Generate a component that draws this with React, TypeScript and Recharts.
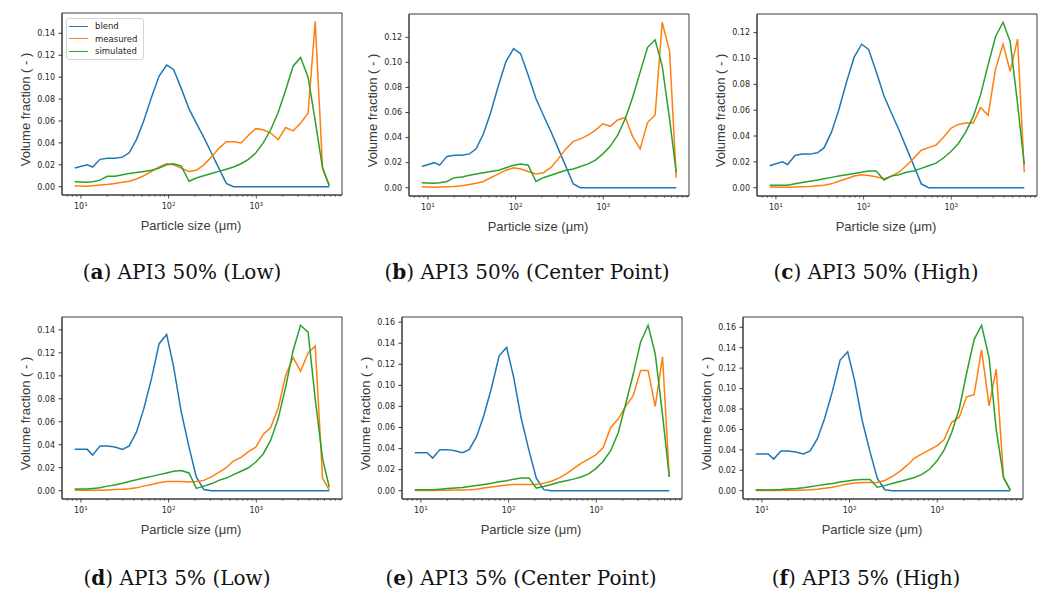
import React from "react";
import { LineChart, Line, XAxis, YAxis, Legend, ReferenceArea } from "recharts";

// particle size classes (µm)
const sizes = [
  8.5, 11.8, 13.6, 16.5, 20, 24.4, 29.8, 35.5, 43, 52, 64, 78, 95, 114, 139, 171, 207, 252, 307, 374,
  455, 550, 670, 815, 990, 1200, 1460, 1780, 2160, 2630, 3200, 3900, 4700, 5700, 6800,
];

const blend50 = [
  0.017, 0.02, 0.018, 0.025, 0.026, 0.026, 0.027, 0.031, 0.043, 0.06, 0.082, 0.101, 0.111, 0.107, 0.09,
  0.071, 0.058, 0.045, 0.031, 0.017, 0.003, 0, 0, 0, 0, 0, 0, 0, 0, 0, 0, 0, 0, 0, 0,
];
const blend5 = [
  0.036, 0.036, 0.031, 0.039, 0.039, 0.038, 0.036, 0.039, 0.051, 0.071, 0.098, 0.128, 0.136, 0.108, 0.069,
  0.038, 0.012, 0.001, 0, 0, 0, 0, 0, 0, 0, 0, 0, 0, 0, 0, 0, 0, 0, 0, 0,
];

const measured50Low = [
  0.001, 0.0005, 0.001, 0.0015, 0.002, 0.003, 0.004, 0.005, 0.007, 0.01, 0.014, 0.018, 0.021, 0.02, 0.017,
  0.014, 0.015, 0.02, 0.027, 0.035, 0.041, 0.041, 0.04, 0.047, 0.053, 0.052, 0.049, 0.043, 0.054, 0.051,
  0.058, 0.067, 0.151, 0.017, 0.001,
];
const simulated50Low = [
  0.0045, 0.004, 0.0045, 0.006, 0.0095, 0.0095, 0.011, 0.012, 0.013, 0.014, 0.015, 0.017, 0.02, 0.021, 0.019,
  0.005, 0.008, 0.01, 0.012, 0.014, 0.016, 0.018, 0.021, 0.025, 0.031, 0.04, 0.052, 0.068, 0.088, 0.11,
  0.118, 0.1, 0.06, 0.017, 0.001,
];
const measured50Center = [
  0.0008, 0.0003, 0.0005, 0.0008, 0.001, 0.0015, 0.0025, 0.0035, 0.005, 0.008, 0.011, 0.014, 0.016, 0.015,
  0.013, 0.011, 0.012, 0.016, 0.023, 0.031, 0.037, 0.039, 0.042, 0.046, 0.051, 0.049, 0.054, 0.056, 0.041,
  0.031, 0.052, 0.058, 0.132, 0.109, 0.008,
];
const simulated50Center = [
  0.004, 0.0035, 0.004, 0.005, 0.008, 0.0085, 0.01, 0.011, 0.012, 0.013, 0.014, 0.016, 0.018, 0.019, 0.018,
  0.005, 0.008, 0.01, 0.012, 0.014, 0.015, 0.017, 0.019, 0.022, 0.027, 0.033, 0.042, 0.055, 0.072, 0.092,
  0.112, 0.118, 0.097, 0.055, 0.012,
];
const measured50High = [
  0.0005, 0.0003, 0.0004, 0.0006, 0.0008, 0.001, 0.0015, 0.002, 0.003, 0.005, 0.007, 0.009, 0.01, 0.0095,
  0.0085, 0.007, 0.009, 0.012, 0.017, 0.023, 0.029, 0.031, 0.033, 0.039, 0.046, 0.049, 0.05, 0.05, 0.062,
  0.056, 0.092, 0.111, 0.09, 0.115, 0.012,
];
const simulated50High = [
  0.002, 0.002, 0.002, 0.003, 0.004, 0.005, 0.006, 0.007, 0.008, 0.009, 0.01, 0.011, 0.012, 0.013, 0.013,
  0.006, 0.009, 0.01, 0.012, 0.013, 0.015, 0.017, 0.019, 0.023, 0.028, 0.034, 0.043, 0.055, 0.072, 0.095,
  0.117, 0.128, 0.113, 0.065, 0.018,
];
const measured5Low = [
  0.0005, 0.0005, 0.0005, 0.0005, 0.0007, 0.001, 0.0013, 0.0018, 0.0025, 0.004, 0.0055, 0.007, 0.008, 0.008,
  0.008, 0.0075, 0.008, 0.009, 0.012, 0.016, 0.02, 0.026, 0.029, 0.034, 0.038, 0.049, 0.055, 0.072, 0.1,
  0.116, 0.104, 0.12, 0.126, 0.011, 0.0005,
];
const simulated5Low = [
  0.0015, 0.0015, 0.002, 0.0025, 0.004, 0.005, 0.0065, 0.008, 0.0095, 0.011, 0.0125, 0.014, 0.0155, 0.017,
  0.0175, 0.0155, 0.002, 0.004, 0.006, 0.009, 0.011, 0.014, 0.017, 0.02, 0.025, 0.032, 0.044, 0.063, 0.09,
  0.122, 0.144, 0.138, 0.08, 0.028, 0.003,
];
const measured5Center = [
  0.0003, 0.0003, 0.0003, 0.0004, 0.0005, 0.0006, 0.0008, 0.001, 0.0015, 0.0025, 0.0035, 0.0045, 0.0055,
  0.006, 0.006, 0.006, 0.006, 0.007, 0.009, 0.012, 0.016, 0.021, 0.026, 0.03, 0.034, 0.041, 0.06, 0.068,
  0.08, 0.09, 0.114, 0.114, 0.08, 0.127, 0.013,
];
const simulated5Center = [
  0.001, 0.001, 0.001, 0.0015, 0.002, 0.0025, 0.003, 0.004, 0.005, 0.006, 0.007, 0.0085, 0.0095, 0.011,
  0.012, 0.012, 0.0025, 0.004, 0.006, 0.008, 0.0095, 0.011, 0.013, 0.016, 0.021, 0.028, 0.038, 0.055, 0.082,
  0.11, 0.141, 0.157, 0.13, 0.072, 0.013,
];
const measured5High = [
  0.0002, 0.0002, 0.0002, 0.0003, 0.0004, 0.0005, 0.0007, 0.001, 0.0015, 0.0025, 0.0035, 0.005, 0.0065,
  0.0075, 0.008, 0.008, 0.008, 0.01, 0.014, 0.019, 0.025, 0.032, 0.036, 0.04, 0.044, 0.05, 0.067, 0.072,
  0.092, 0.094, 0.138, 0.083, 0.119, 0.013, 0.0005,
];
const simulated5High = [
  0.001, 0.0008, 0.001, 0.0013, 0.0018, 0.0023, 0.003, 0.004, 0.005, 0.006, 0.007, 0.0085, 0.0095, 0.0105,
  0.011, 0.011, 0.0035, 0.005, 0.007, 0.009, 0.011, 0.013, 0.016, 0.021, 0.029, 0.04, 0.057, 0.08, 0.115,
  0.148, 0.162, 0.13, 0.06, 0.013, 0.0005,
];

const yTicks12 = [0, 0.02, 0.04, 0.06, 0.08, 0.1, 0.12];
const yTicks14 = [0, 0.02, 0.04, 0.06, 0.08, 0.1, 0.12, 0.14];
const yTicks16 = [0, 0.02, 0.04, 0.06, 0.08, 0.1, 0.12, 0.14, 0.16];
const xMajorTicks = [10, 100, 1000];
const xMinorTicks = [
  7, 8, 9, 20, 30, 40, 50, 60, 70, 80, 90, 200, 300, 400, 500, 600, 700, 800, 900, 2000, 3000, 4000, 5000,
  6000, 7000, 8000, 9000,
];

const seriesNames = ["blend", "measured", "simulated"];
const BLUE = "#1f77b4";
const ORANGE = "#ff7f0e";
const GREEN = "#2ca02c";
const frame = "#3a3a3a";
const ink = "#262626";
const labelFont = "'Liberation Sans', Arial, sans-serif";

const panels = [
  { id: "a", title: "API3 50% (Low)", blend: blend50, measured: measured50Low, simulated: simulated50Low, yTicks: yTicks14, left: 62, top: 13, capX: 182, capY: 279, legend: true },
  { id: "b", title: "API3 50% (Center Point)", blend: blend50, measured: measured50Center, simulated: simulated50Center, yTicks: yTicks12, left: 409, top: 14, capX: 527, capY: 279 },
  { id: "c", title: "API3 50% (High)", blend: blend50, measured: measured50High, simulated: simulated50High, yTicks: yTicks12, left: 757, top: 14, capX: 876, capY: 279 },
  { id: "d", title: "API3 5% (Low)", blend: blend5, measured: measured5Low, simulated: simulated5Low, yTicks: yTicks14, left: 62, top: 317, capX: 177, capY: 585 },
  { id: "e", title: "API3 5% (Center Point)", blend: blend5, measured: measured5Center, simulated: simulated5Center, yTicks: yTicks16, left: 402, top: 317, capX: 521, capY: 585 },
  { id: "f", title: "API3 5% (High)", blend: blend5, measured: measured5High, simulated: simulated5High, yTicks: yTicks16, left: 743, top: 317, capX: 866, capY: 585 },
];

// matplotlib-style 5% margins (log space on x)
const logLo = Math.log10(Math.min(...sizes));
const logHi = Math.log10(Math.max(...sizes));
const logPad = (logHi - logLo) * 0.05;
const xDomain = [Math.pow(10, logLo - logPad), Math.pow(10, logHi + logPad)];
const xTicks = [...xMajorTicks, ...xMinorTicks].sort((a, b) => a - b);

function LogTick(props: any) {
  const { x, y, payload } = props;
  const v = payload.value;
  const major = xMajorTicks.includes(v);
  return (
    <g>
      <line x1={x} x2={x} y1={y} y2={y + (major ? 3.5 : 2)} stroke={frame} strokeWidth={major ? 0.9 : 0.6} />
      {major && (
        <text x={x} y={y + 14} textAnchor="middle" fontFamily="DejaVu Sans" fontSize={8} fill={ink}>
          10
          <tspan dy={-3.5} fontSize={5.6}>
            {Math.round(Math.log10(v))}
          </tspan>
        </text>
      )}
    </g>
  );
}

function XTitle(props: any) {
  const vb = props.viewBox || {};
  return (
    <text x={vb.x + vb.width / 2 - 11} y={vb.y + 35} textAnchor="middle" fontFamily={labelFont} fontSize={13} fill="#3c3c3c">
      Particle size (μm)
    </text>
  );
}

function YTitle(props: any) {
  const vb = props.viewBox || {};
  const x = vb.x + vb.width - 32.5;
  const y = vb.y + vb.height / 2 + 5.5;
  return (
    <text x={x} y={y} transform={`rotate(-90 ${x} ${y})`} textAnchor="middle" fontFamily={labelFont} fontSize={13} fill="#3c3c3c">
      Volume fraction ( - )
    </text>
  );
}

function BoxLegend(props: any) {
  const items = props.payload || [];
  return (
    <div
      style={{
        border: "1px solid #d4d4d4",
        borderRadius: 3,
        background: "rgba(255,255,255,0.85)",
        padding: "1px 6px 1px 2px",
        fontFamily: "DejaVu Sans",
        fontSize: 8.5,
        color: ink,
      }}
    >
      {items.map((it: any) => (
        <div key={it.value} style={{ display: "flex", alignItems: "center", height: 12.5, whiteSpace: "nowrap" }}>
          <span style={{ display: "inline-block", width: 19, borderTop: `1.5px solid ${it.color}`, marginRight: 7 }} />
          {it.value}
        </div>
      ))}
    </div>
  );
}

function Panel({ p }: { p: any }) {
  const data = sizes.map((size, i) => ({
    size,
    blend: p.blend[i],
    measured: p.measured[i],
    simulated: p.simulated[i],
  }));
  const all = [...p.blend, ...p.measured, ...p.simulated];
  const lo = Math.min(...all);
  const hi = Math.max(...all);
  const pad = (hi - lo) * 0.05;
  const yDomain = [lo - pad, hi + pad];
  const colors = [BLUE, ORANGE, GREEN];

  return (
    <div style={{ position: "absolute", left: p.left - 62, top: p.top - 13 }}>
      <LineChart width={346} height={240} data={data} margin={{ top: 13, right: 4, bottom: 0, left: 0 }}>
        <XAxis
          dataKey="size"
          type="number"
          scale="log"
          domain={xDomain}
          allowDataOverflow
          ticks={xTicks}
          interval={0}
          tick={<LogTick />}
          tickLine={false}
          tickSize={0}
          tickMargin={0}
          height={45}
          axisLine={{ stroke: frame }}
          label={<XTitle />}
        />
        <YAxis
          type="number"
          domain={yDomain}
          allowDataOverflow
          ticks={p.yTicks}
          interval={0}
          tickFormatter={(v: number) => v.toFixed(2)}
          width={62}
          tickSize={3.5}
          tickMargin={3.5}
          tick={{ fontSize: 8, fill: ink, fontFamily: "DejaVu Sans" }}
          tickLine={{ stroke: frame }}
          axisLine={{ stroke: frame }}
          label={<YTitle />}
        />
        {/* axes frame (matplotlib spines) */}
        <ReferenceArea
          x1={xDomain[0]}
          x2={xDomain[1]}
          y1={yDomain[0]}
          y2={yDomain[1]}
          fill="none"
          fillOpacity={0}
          stroke={frame}
          strokeWidth={1}
          ifOverflow="visible"
        />
        {p.legend && (
          <Legend
            layout="vertical"
            align="center"
            verticalAlign="middle"
            wrapperStyle={{ left: 66, top: 18, width: "auto" }}
            content={<BoxLegend />}
          />
        )}
        {seriesNames.map((name, i) => (
          <Line
            key={name}
            type="linear"
            dataKey={name}
            name={name}
            stroke={colors[i]}
            strokeWidth={1.5}
            dot={false}
            isAnimationActive={false}
          />
        ))}
      </LineChart>
    </div>
  );
}

export default function App() {
  return (
    <div style={{ position: "absolute", left: 0, top: 0, width: 1043, height: 593, overflow: "hidden", background: "#fff" }}>
      {panels.map((p) => (
        <React.Fragment key={p.id}>
          <Panel p={p} />
          <div
            style={{
              position: "absolute",
              left: p.capX - 200,
              width: 400,
              top: p.capY - 17,
              textAlign: "center",
              fontFamily: "'DejaVu Serif', serif",
              fontSize: 20,
              lineHeight: "20px",
              whiteSpace: "nowrap",
              color: "#111",
            }}
          >
            (<b>{p.id}</b>) {p.title}
          </div>
        </React.Fragment>
      ))}
    </div>
  );
}
